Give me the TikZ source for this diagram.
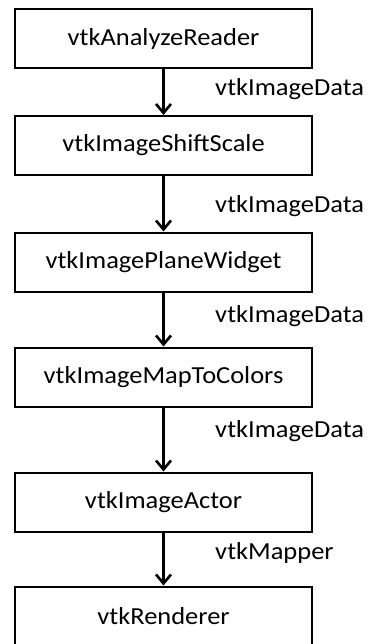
\documentclass[tikz,border=0pt]{standalone}
\usepackage{fontspec}
\setmainfont{Carlito}[FakeStretch=1.08]
\usetikzlibrary{arrows.meta}

\begin{document}
\begin{tikzpicture}[x=1pt,y=-1pt]
	\tikzstyle{block} = [rectangle,draw=black,line width=2pt,minimum width=297pt,minimum height=59pt,inner sep=0pt,font=\fontsize{24.5}{28}\selectfont]
	\tikzstyle{datatype} = [anchor=base west,inner sep=0pt,font=\fontsize{24.5}{28}\selectfont]
	\tikzstyle{edge} = [-{Straight Barb[length=9pt,width=15pt,line width=2.6pt]},line width=3pt]
	\useasboundingbox (0,0) rectangle (369,644);
	\node[block] (n1) at (163.5,39) {vtkAnalyzeReader};
	\node[block] (n2) at (163.5,145.5) {vtkImageShiftScale};
	\node[block] (n3) at (163.5,262) {vtkImagePlaneWidget};
	\node[block] (n4) at (163.5,377) {vtkImageMapToColors};
	\node[block] (n5) at (163.5,502) {vtkImageActor};
	\node[block] (n6) at (163.5,616) {vtkRenderer};
	\node[datatype] (t1) at (215,96) {vtkImageData};
	\node[datatype] (t2) at (215,212) {vtkImageData};
	\node[datatype] (t3) at (215,322) {vtkImageData};
	\node[datatype] (t4) at (215,437) {vtkImageData};
	\node[datatype] (t5) at (215,559) {vtkMapper};
	\draw[edge] (n1)--(n2);
	\draw[edge] (n2)--(n3);
	\draw[edge] (n3)--(n4);
	\draw[edge] (n4)--(n5);
	\draw[edge] (n5)--(n6);
\end{tikzpicture}
\end{document}
